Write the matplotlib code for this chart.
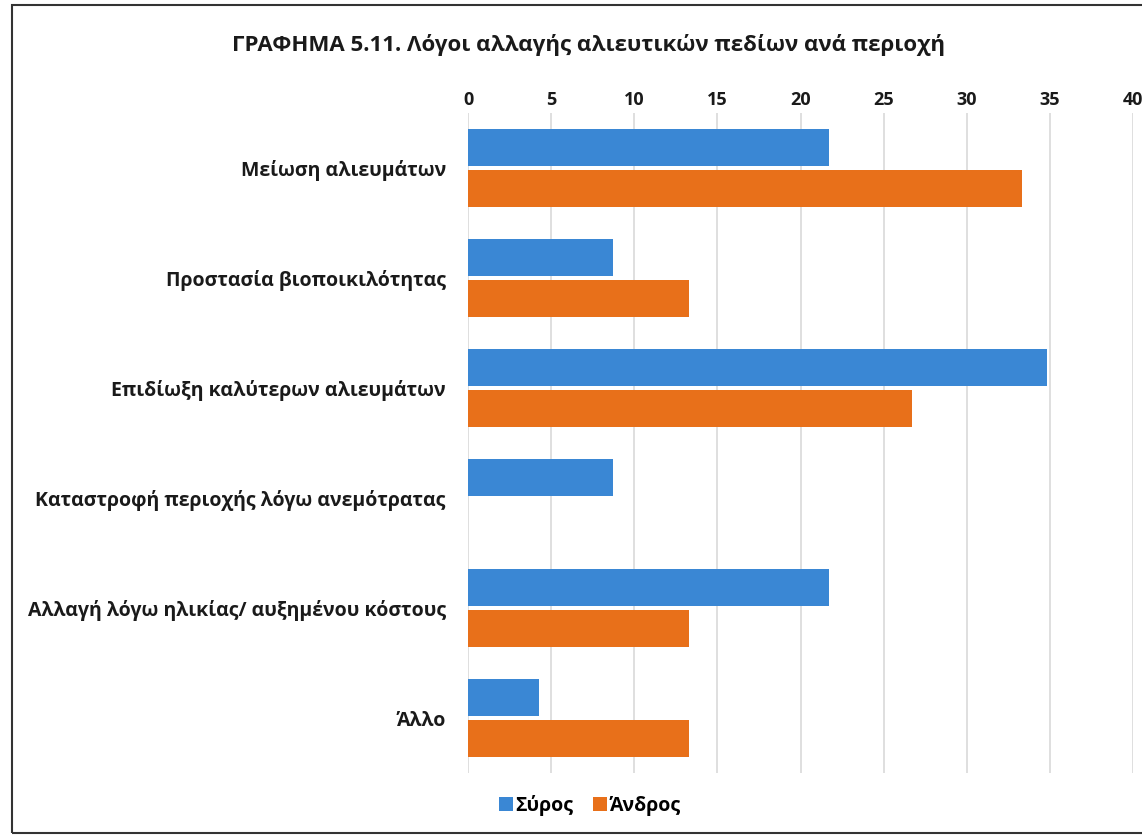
import numpy as np
import matplotlib.pyplot as plt
from matplotlib.patches import Rectangle

plt.rcParams['font.family'] = ['Open Sans', 'Noto Sans', 'DejaVu Sans']

# data (% ανά περιοχή)
categories = ['Μείωση αλιευμάτων', 'Προστασία βιοποικιλότητας', 'Επιδίωξη καλύτερων αλιευμάτων',
              'Καταστροφή περιοχής λόγω ανεμότρατας', 'Αλλαγή λόγω ηλικίας/ αυξημένου κόστους', 'Άλλο']
syros = [21.7, 8.7, 34.8, 8.7, 21.7, 4.3]
andros = [33.3, 13.3, 26.7, 0, 13.3, 13.3]
series_names = ['Σύρος', 'Άνδρος']
colors = ['#3A87D4', '#E8701A']

fig = plt.figure(figsize=(11.42, 8.35), dpi=100)
ax = fig.add_axes([468 / 1142, 1 - 773 / 835, (1133 - 468) / 1142, (773 - 113) / 835])

y = np.arange(len(categories))
h = 0.335
ax.barh(y - h / 2 - 0.02, syros, height=h, color=colors[0], label=series_names[0], zorder=3)
ax.barh(y + h / 2 + 0.02, andros, height=h, color=colors[1], label=series_names[1], zorder=3)

ax.set_ylim(len(categories) - 0.5, -0.5)
ax.set_xlim(0, 40)
ax.set_xticks(range(0, 41, 5))
ax.xaxis.tick_top()
ax.set_yticks(y)
ax.set_yticklabels(categories)
ax.tick_params(axis='y', length=0, labelsize=14, colors='#1a1a1a', pad=16)
ax.tick_params(axis='x', length=0, labelsize=13, colors='#1a1a1a', pad=3)
for lab in ax.get_xticklabels() + ax.get_yticklabels():
    lab.set_fontweight('bold')
ax.grid(axis='x', color='#d9d9d9', linewidth=1.2, zorder=0)
for s in ax.spines.values():
    s.set_visible(False)

fig.text(589 / 1142, 1 - 45 / 835, 'ΓΡΑΦΗΜΑ 5.11. Λόγοι αλλαγής αλιευτικών πεδίων ανά περιοχή',
         ha='center', va='center', fontsize=16, fontweight='bold', color='#1a1a1a')

leg = fig.legend(loc='center', bbox_to_anchor=(590 / 1142, 1 - 805 / 835), ncol=2, frameon=False,
                 handlelength=0.7, handleheight=0.7, handletextpad=0.15, columnspacing=1.0,
                 prop={'weight': 'bold', 'size': 14})

# outer frame
fig.patches.append(Rectangle((12 / 1142, 2 / 835), 1.2, 1 - 7 / 835, transform=fig.transFigure,
                             fill=False, edgecolor='#333333', linewidth=1.5))

fig.savefig('out.png', dpi=100)
